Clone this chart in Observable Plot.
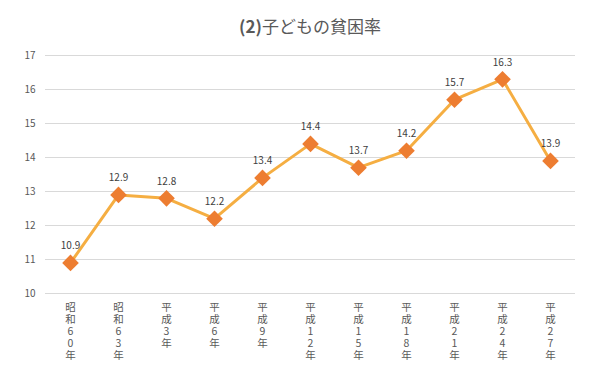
<!DOCTYPE html>
<html><head><meta charset="utf-8">
<script src="https://cdn.jsdelivr.net/npm/d3@7"></script>
<script src="https://cdn.jsdelivr.net/npm/@observablehq/plot@0.6"></script>
<style>
body{margin:0;background:#fff;font-family:"Noto Sans CJK JP","Noto Sans",sans-serif;}
#wrap{position:relative;width:609px;height:376px;}
#title{position:absolute;top:14px;left:0;width:620px;text-align:center;font-size:17px;color:#595959;line-height:24px;}
</style></head>
<body><div id="wrap"><div id="title"><b style="font-weight:600">(2)</b>子どもの貧困率</div></div>
<script>
const categories = ["昭和60年","昭和63年","平成3年","平成6年","平成9年","平成12年","平成15年","平成18年","平成21年","平成24年","平成27年"];
const values = [10.9,12.9,12.8,12.2,13.4,14.4,13.7,14.2,15.7,16.3,13.9];
const yTicks = [10,11,12,13,14,15,16,17];
const data = categories.map((c,i)=>({c, v: values[i]}));

const chart = Plot.plot({
  width: 609, height: 376,
  marginLeft: 45, marginRight: 34, marginTop: 55, marginBottom: 83,
  style: {fontFamily: '"Noto Sans CJK JP","Noto Sans",sans-serif', background: "transparent"},
  x: {type: "point", domain: categories, padding: 0.5, axis: null},
  y: {domain: [10, 17], axis: null},
  marks: [
    Plot.gridY(yTicks, {stroke: "#d9d9d9", strokeOpacity: 1}),
    Plot.axisY(yTicks, {tickSize: 0, tickPadding: 10, fontSize: 10, fill: "#595959", label: null}),
    Plot.text(categories, {x: d => d, text: d => d.split("").join("\n"), frameAnchor: "bottom", lineAnchor: "top", dy: 9, fontSize: 10.5, lineHeight: 1.14, fill: "#595959"}),
    Plot.line(data, {x: "c", y: "v", stroke: "#F5AE42", strokeWidth: 3}),
    Plot.dot(data, {x: "c", y: "v", symbol: "diamond2", r: 7.5, fill: "#ED7D31", stroke: "none"}),
    Plot.text(data, {x: "c", y: "v", text: d => d.v.toFixed(1), dy: -17, fontSize: 10, fill: "#404040"})
  ]
});
document.getElementById("wrap").prepend(chart);
</script></body></html>
